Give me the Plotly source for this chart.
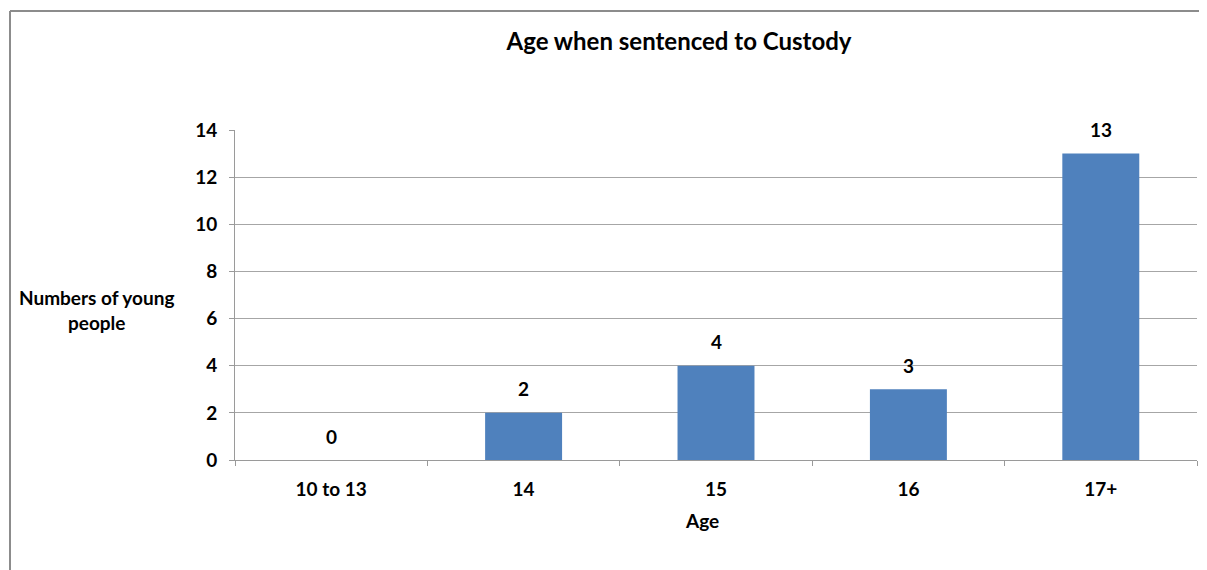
import plotly.graph_objects as go

categories = ["10 to 13", "14", "15", "16", "17+"]
values = [0, 2, 4, 3, 13]
y_ticks = [0, 2, 4, 6, 8, 10, 12, 14]

FONT = "Lato"
OFF = 8  # page body margin
L, R, T, B = 235, 1197, 130, 460  # target plot area in screen px
W, H = 1191, 562

def px_x(px):
    return (px - L) / (R - L)

def px_y(py):
    return (B - py) / (B - T)

fig = go.Figure()
fig.add_trace(go.Bar(
    x=categories, y=values,
    marker=dict(color="#4F81BD", line=dict(width=0)),
    width=0.4,
    hoverinfo="x+y",
))

for i, v in enumerate(values):
    fig.add_annotation(
        x=i, y=v, xref="x", yref="y", text=f"<b>{v}</b>", showarrow=False,
        yanchor="middle", yshift=24,
        font=dict(family=FONT, size=19, color="#000000"),
    )

fig.update_layout(
    width=W, height=H,
    margin=dict(l=L - OFF, r=W - (R - OFF), t=T - OFF, b=H - (B - OFF), pad=0),
    paper_bgcolor="white", plot_bgcolor="white",
    showlegend=False,
    font=dict(family=FONT, color="#000000"),
    title=dict(text="<b>Age when sentenced to Custody</b>", x=(679 - OFF) / W,
               xanchor="center", y=1 - (42 - OFF) / H, yanchor="middle",
               font=dict(family=FONT, size=24, color="#000000")),
    bargap=0.6,
)

fig.update_xaxes(
    type="category",
    range=[-0.5, len(categories) - 0.5],
    tickangle=0,
    tickson="boundaries", ticks="outside", ticklen=5, tickcolor="#9a9a9a",
    showline=True, linecolor="#9a9a9a", linewidth=1,
    showgrid=False,
    tickfont=dict(family=FONT, size=19, color="#000000"),
    tickprefix="<b>", ticksuffix="</b>",
    ticklabelstandoff=12,
)
fig.update_yaxes(
    range=[0, 14], tickvals=y_ticks, ticktext=[f"<b>{v}</b>" for v in y_ticks],
    ticks="outside", ticklen=5, tickcolor="#9a9a9a",
    showline=True, linecolor="#9a9a9a", linewidth=1,
    showgrid=True, gridcolor="#a6a6a6", gridwidth=1,
    zeroline=False,
    ticklabelstandoff=8,
    tickfont=dict(family=FONT, size=19, color="#000000"),
)

fig.add_annotation(
    text="<b>Numbers of young<br>people</b>", xref="paper", yref="paper",
    x=px_x(96), y=px_y(310), xanchor="center", yanchor="middle", showarrow=False,
    font=dict(family=FONT, size=19, color="#000000"), align="center",
)
fig.add_annotation(
    text="<b>Age</b>", xref="paper", yref="paper",
    x=px_x(702), y=px_y(520), xanchor="center", yanchor="middle", showarrow=False,
    font=dict(family=FONT, size=19, color="#000000"),
)

# outer chart frame (left and top edges visible)
fig.add_shape(
    type="line", xref="paper", yref="paper",
    x0=px_x(10), x1=px_x(1210), y0=px_y(11), y1=px_y(11),
    line=dict(color="#8c8c8c", width=2), layer="below",
)
fig.add_shape(
    type="line", xref="paper", yref="paper",
    x0=px_x(10), x1=px_x(10), y0=px_y(11), y1=px_y(600),
    line=dict(color="#8c8c8c", width=2), layer="below",
)

fig.write_html("out.html")
